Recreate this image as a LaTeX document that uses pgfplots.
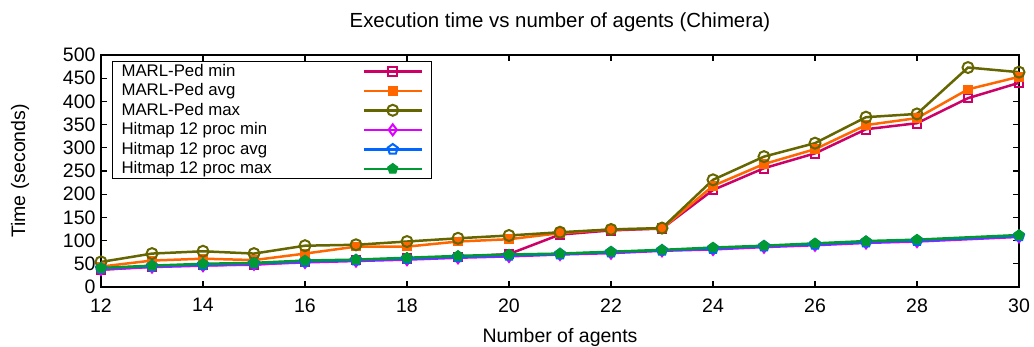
\documentclass[border=0pt]{standalone}
\usepackage{fontspec}
\setmainfont{Liberation Sans}
\usepackage{pgfplots}
\pgfplotsset{compat=1.18}
\usetikzlibrary{plotmarks}
\definecolor{cMmin}{RGB}{204,0,102}
\definecolor{cMavg}{RGB}{255,102,0}
\definecolor{cMmax}{RGB}{102,102,0}
\definecolor{cHmin}{RGB}{221,0,255}
\definecolor{cHavg}{RGB}{0,102,255}
\definecolor{cHmax}{RGB}{0,153,51}
\pgfplotstableread{
x mmin mavg mmax
12 37 44 54
13 44 57 72
14 47 61 77
15 48 58 72
16 55 72 89
17 58 87 91
18 61 87 98
19 65 98 105
20 71 103 111
21 113 116 118
22 122 124 124
23 126 126 127
24 209 218 231
25 256 265 281
26 288 297 310
27 340 349 366
28 353 364 373
29 407 426 473
30 440 453 463
}\marl
\pgfplotstableread{
x hmin havg hmax
12 38 40 41
13 43 45 46
14 46 48 50
15 49 51 52
16 53 55 57
17 56 58 59
18 59 61 63
19 63 65 67
20 66 68 70
21 70 71 72
22 73 75 76
23 78 79 80
24 81 83 85
25 86 88 89
26 90 92 94
27 95 97 99
28 98 100 102
30 108 110 112
}\hit
\begin{document}
\begin{tikzpicture}
\useasboundingbox (-101pt,-60pt) rectangle (933pt,287pt);
\begin{axis}[
  at={(0,0)}, anchor=south west,
  scale only axis, width=918pt, height=232pt,
  xmin=12, xmax=30, ymin=0, ymax=500,
  xtick={12,14,...,30}, ytick={0,50,...,500},
  tick align=inside, major tick length=6pt,
  tick style={line width=1.2pt, black},
  axis line style={line width=1.6pt},
  font=\fontsize{19.5}{23}\selectfont,
  /pgf/number format/assume math mode=true,
  ticklabel style={font=\fontsize{19.5}{23}\selectfont},
  yticklabel style={xshift=-2pt},
  xticklabel style={yshift=-8pt},
  title={Execution time vs number of agents (Chimera)},
  title style={at={(axis description cs:0.5,1.117)}, anchor=center, font=\fontsize{20.4}{24}\selectfont},
  xlabel={Number of agents},
  xlabel style={at={(axis description cs:0.5,-0.216)}, anchor=center},
  ylabel={Time (seconds)},
  ylabel style={at={(axis description cs:-0.0882,0.5)}, anchor=center},
  legend plot pos=right,
  legend cell align=left,
  legend style={at={(axis description cs:0.012,0.974)}, anchor=north west,
    draw=black, line width=1pt, inner xsep=8pt, inner ysep=0pt,
    font=\fontsize{16.8}{19}\selectfont,
    nodes={inner sep=1pt, text height=13.5pt, text depth=4pt},
    /tikz/column sep=0pt},
  legend image code/.code={
    \draw[mark repeat=2,mark phase=2] plot coordinates {(0pt,0pt) (29pt,0pt) (58pt,0pt)};
  },
  every axis plot/.append style={line width=2.5pt},
]
\addplot[color=cMmin, mark=square, mark size=4.3pt, mark options={line width=2pt}] table[x=x,y=mmin]{\marl};
\addlegendentry{\makebox[240pt][l]{MARL-Ped min}}
\addplot[color=cMavg, mark=square*, mark size=4.3pt, mark options={line width=1pt}] table[x=x,y=mavg]{\marl};
\addlegendentry{\makebox[240pt][l]{MARL-Ped avg}}
\addplot[color=cMmax, mark=o, mark size=5.5pt, mark options={line width=2pt}] table[x=x,y=mmax]{\marl};
\addlegendentry{\makebox[240pt][l]{MARL-Ped max}}
\addplot[color=cHmin, mark=diamond, mark size=5.5pt, mark options={line width=2pt}] table[x=x,y=hmin]{\hit};
\addlegendentry{\makebox[240pt][l]{Hitmap 12 proc min}}
\addplot[color=cHavg, mark=pentagon, mark size=5.3pt, mark options={line width=2pt}] table[x=x,y=havg]{\hit};
\addlegendentry{\makebox[240pt][l]{Hitmap 12 proc avg}}
\addplot[color=cHmax, mark=pentagon*, mark size=5.3pt, mark options={line width=1pt}] table[x=x,y=hmax]{\hit};
\addlegendentry{\makebox[240pt][l]{Hitmap 12 proc max}}
\end{axis}
\end{tikzpicture}
\end{document}
